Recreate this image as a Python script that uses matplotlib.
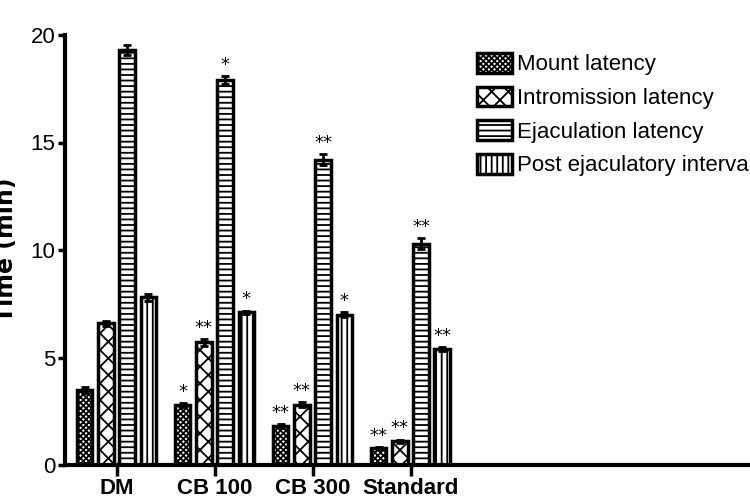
import numpy as np
import matplotlib
matplotlib.use('Agg')
import matplotlib.pyplot as plt

groups = ['DM', 'CB 100', 'CB 300', 'Standard']
series = ['Mount latency', 'Intromission latency', 'Ejaculation latency', 'Post ejaculatory interval']
mount = [3.5, 2.8, 1.8, 0.8]
intromission = [6.6, 5.7, 2.8, 1.1]
ejaculation = [19.3, 17.9, 14.2, 10.3]
post_ejac = [7.8, 7.1, 7.0, 5.4]
mount_err = [0.15, 0.1, 0.1, 0.05]
intro_err = [0.12, 0.15, 0.12, 0.08]
ejac_err = [0.25, 0.2, 0.25, 0.25]
post_err = [0.15, 0.08, 0.1, 0.1]
mount_sig = ['', '*', '**', '**']
intro_sig = ['', '**', '**', '**']
ejac_sig = ['', '*', '**', '**']
post_sig = ['', '*', '*', '**']

values = [mount, intromission, ejaculation, post_ejac]
errors = [mount_err, intro_err, ejac_err, post_err]
sigs = [mount_sig, intro_sig, ejac_sig, post_sig]
hatches = ['xxxxxx', 'XX', '---', '|||']

narrow = ['Liberation Sans Narrow', 'Liberation Sans', 'DejaVu Sans']
plt.rcParams['font.family'] = narrow
plt.rcParams['hatch.linewidth'] = 1.3
fig = plt.figure(figsize=(7.5, 4.99), dpi=100)
ax = fig.add_axes([65/750, 34/499, 685/750, 430/499])

x = np.arange(len(groups))
offsets = [-0.327, -0.112, 0.103, 0.318]
width = 0.155
for k in range(4):
    pos = x + offsets[k]
    ax.bar(pos, values[k], width, color='white', edgecolor='black', linewidth=2.5,
           hatch=hatches[k], label=series[k], yerr=errors[k], capsize=3,
           error_kw=dict(elinewidth=2, capthick=2, ecolor='black'))
    for p, v, e, s in zip(pos, values[k], errors[k], sigs[k]):
        if s:
            ax.text(p, v + e + 0.1, s, ha='center', va='bottom', fontsize=13,
                    family='DejaVu Sans')

ax.set_xlim(-0.53, 6.46)
ax.set_ylim(0, 20)
ax.set_yticks([0, 5, 10, 15, 20])
ax.set_xticks(x)
ax.set_xticklabels(groups, fontsize=16, fontweight='bold')
ax.tick_params(axis='y', labelsize=16, width=2.5, length=5, pad=2)
ax.tick_params(axis='x', width=2.5, length=8, pad=1)
for side in ['top', 'right']:
    ax.spines[side].set_visible(False)
for side in ['left', 'bottom']:
    ax.spines[side].set_linewidth(3)
ax.set_ylabel('Time (min)', fontsize=17, fontweight='bold', family='DejaVu Sans')
ax.yaxis.set_label_coords(-0.068, 0.5)

fig.legend(loc='upper left', bbox_to_anchor=(468/750, 1 - 44/499), frameon=False,
           fontsize=16, handlelength=1.6, handleheight=1.0, handletextpad=0.2,
           labelspacing=0.5, borderaxespad=0)

fig.savefig('out.png', dpi=100)
